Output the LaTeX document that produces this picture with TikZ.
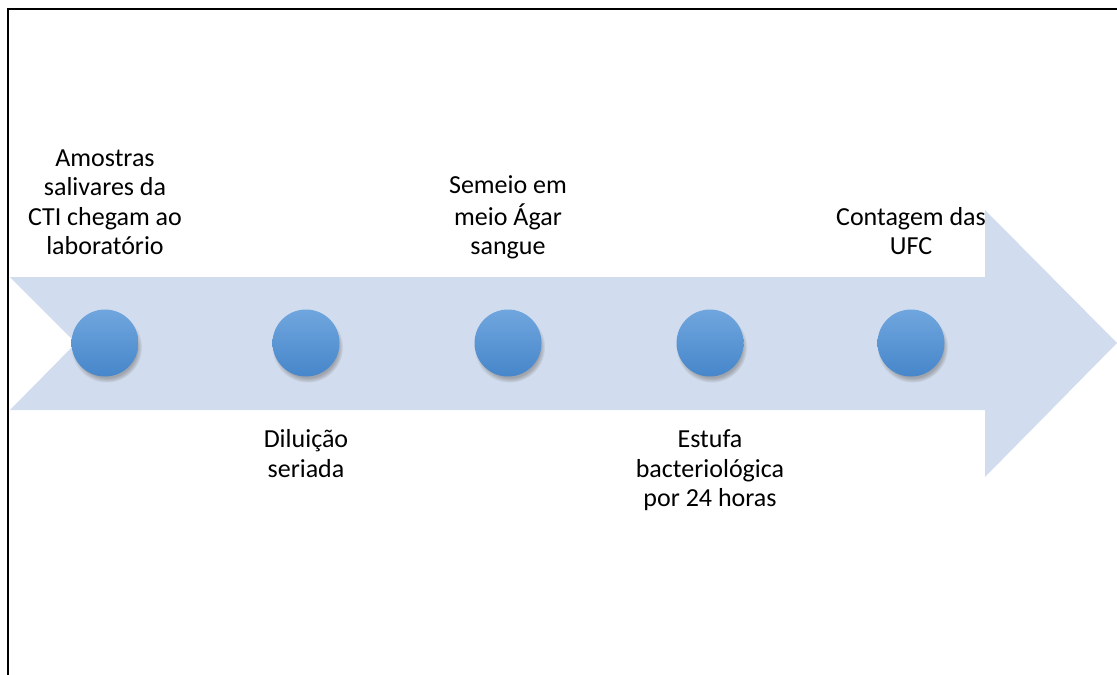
\documentclass[tikz,border=0pt]{standalone}
\usepackage{fontspec}
\setmainfont{Carlito}
\usepackage{tikz}
\usetikzlibrary{shadows,fadings}

\definecolor{band}{RGB}{209,220,238}
\definecolor{dottop}{RGB}{112,166,222}
\definecolor{dotmid}{RGB}{86,153,218}
\definecolor{dotbot}{RGB}{70,134,202}

\begin{document}
\begin{tikzpicture}[x=1pt,y=-1pt,
    dot/.style={circle,minimum size=67pt,inner sep=0pt,
      top color=dottop,middle color=dotmid,bottom color=dotbot,
      circular drop shadow={shadow xshift=1.5pt,shadow yshift=-4pt,shadow scale=1.06,opacity=.6}},
    lbl/.style={align=center,inner sep=0pt,font=\fontsize{26}{29.5}\selectfont}]
  \useasboundingbox (0,0) rectangle (1117,675);
  % frame
  \draw[line width=1.4pt] (8,675) -- (8,9) -- (1117,9);
  % the big arrow
  \fill[band] (10,277) -- (985,277) -- (985,210) -- (1117,343) -- (985,477)
              -- (985,410) -- (10,410) -- (76,343) -- cycle;
  % the five dots
  \foreach \x [count=\i] in {105,306,508,710,911}
    { \node[dot] (p\i) at (\x,343) {}; }
  % labels above the band
  \node[lbl,anchor=south] (t1) at (105,264) {\strut Amostras\\salivares da\\CTI chegam ao\\laboratório\strut};
  \node[lbl,anchor=south] (t3) at (508,264) {\strut Semeio em\\meio Ágar\\sangue\strut};
  \node[lbl,anchor=south] (t5) at (911,264) {\strut Contagem das\\UFC\strut};
  % labels below the band
  \node[lbl,anchor=north] (t2) at (306,427) {\strut Diluição\\seriada\strut};
  \node[lbl,anchor=north] (t4) at (710,427) {\strut Estufa\\bacteriológica\\por 24 horas\strut};
\end{tikzpicture}
\end{document}
